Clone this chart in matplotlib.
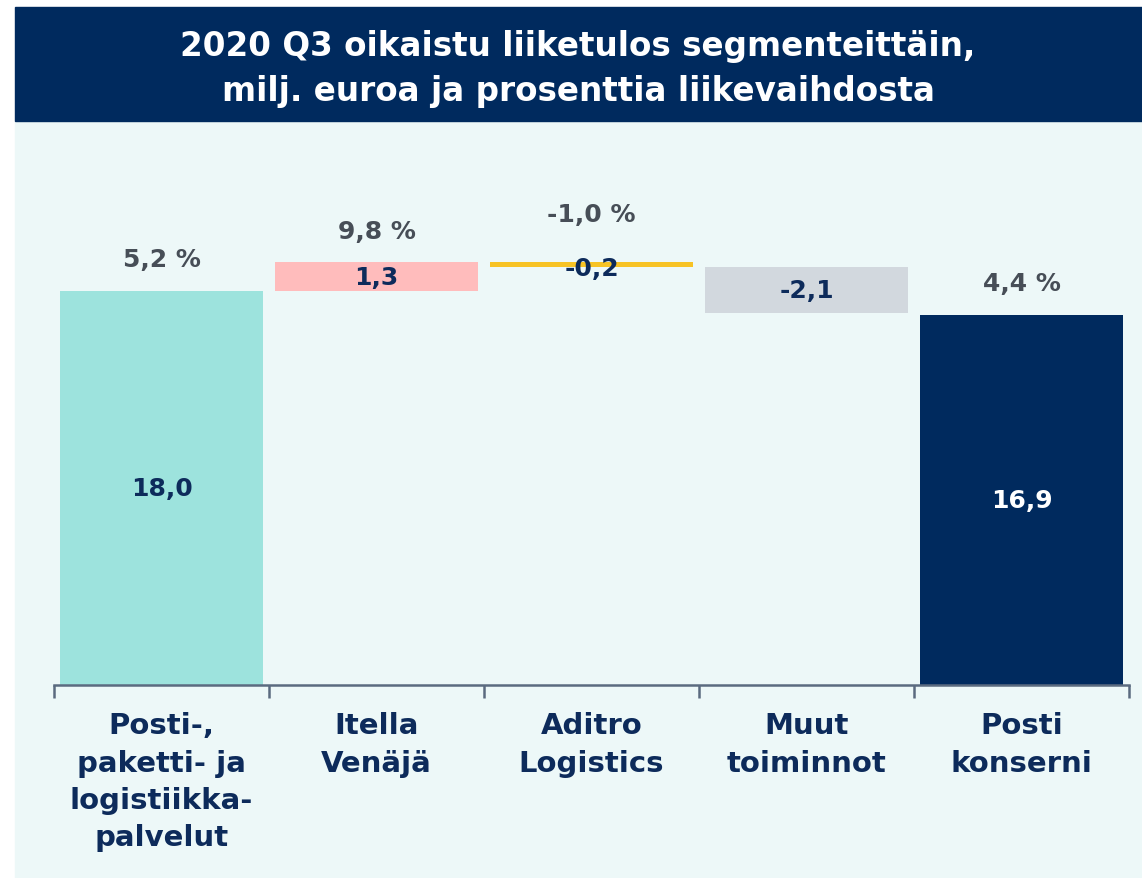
import matplotlib.pyplot as plt
from matplotlib.patches import Rectangle

segments = ["Posti-,\npaketti- ja\nlogistiikka-\npalvelut", "Itella\nVenäjä",
            "Aditro\nLogistics", "Muut\ntoiminnot", "Posti\nkonserni"]
values = [18.0, 1.3, -0.2, -2.1, 16.9]
percents = [5.2, 9.8, -1.0, None, 4.4]
is_total = [True, False, False, False, True]
colors = ["#9DE3DD", "#FFBCBC", "#F7C325", "#D2D8DE", "#002A5E"]
value_colors = ["#0D2B5B", "#0D2B5B", "#0D2B5B", "#0D2B5B", "#FFFFFF"]

TITLE = "2020 Q3 oikaistu liiketulos segmenteittäin,\nmilj. euroa ja prosenttia liikevaihdosta"


def fmt(v):
    return f"{v:.1f}".replace(".", ",")


def main():
    W, H = 1142, 879
    fig = plt.figure(figsize=(W / 100, H / 100), dpi=100)
    fig.patch.set_facecolor("white")

    # background panels (figure pixel coords -> fractions)
    fig.patches.append(Rectangle((15 / W, 0), 1 - 15 / W, 1 - 122 / H,
                                 transform=fig.transFigure, color="#EDF8F8", zorder=-10))
    fig.patches.append(Rectangle((15 / W, 1 - 122 / H), 1 - 15 / W, (122 - 8) / H,
                                 transform=fig.transFigure, color="#002A5E", zorder=-10))
    fig.text(0.5 + 7 / W, 1 - 69 / H, TITLE, color="white", fontsize=23.5, fontweight="bold",
             ha="center", va="center", linespacing=1.45)

    ax = fig.add_axes([54 / W, 1 - 686 / H, 1075 / W, (686 - 140) / H])
    ax.patch.set_alpha(0)

    # waterfall bottoms
    bottoms = []
    running = 0.0
    for v, tot in zip(values, is_total):
        if tot:
            bottoms.append(0.0)
            running = v
        else:
            bottoms.append(running)
            running += v

    x = list(range(len(values)))
    ax.bar(x, values, bottom=bottoms, width=0.944, color=colors, zorder=2)

    for i, (v, b) in enumerate(zip(values, bottoms)):
        mid = b + v / 2
        if abs(v) < 0.5:
            mid -= 0.15
        ax.text(i, mid, fmt(v), ha="center", va="center", fontsize=18,
                fontweight="bold", color=value_colors[i], zorder=3)
        if percents[i] is not None:
            top = max(b, b + v)
            off = 1.45 if abs(v) > 0.5 else 2.2
            ax.text(i, top + off, fmt(percents[i]) + " %", ha="center", va="center",
                    fontsize=18, fontweight="bold", color="#474E57", zorder=3)

    ax.set_xlim(-0.5, len(values) - 0.5)
    ax.set_ylim(0, 546 / 21.9)

    for side in ["top", "right", "left"]:
        ax.spines[side].set_visible(False)
    ax.spines["bottom"].set_color("#5B6B80")
    ax.spines["bottom"].set_linewidth(1.8)
    ax.set_yticks([])

    ax.set_xticks(x)
    ax.set_xticklabels(segments, fontsize=21, fontweight="bold", color="#0D2B5B",
                       linespacing=1.42, va="top")
    ax.tick_params(axis="x", which="major", length=0, pad=19)
    ax.set_xticks([i - 0.5 for i in range(len(values) + 1)], minor=True)
    ax.tick_params(axis="x", which="minor", length=9, width=1.8, color="#5B6B80")

    fig.savefig("out.png", dpi=100)


if __name__ == "__main__":
    main()
